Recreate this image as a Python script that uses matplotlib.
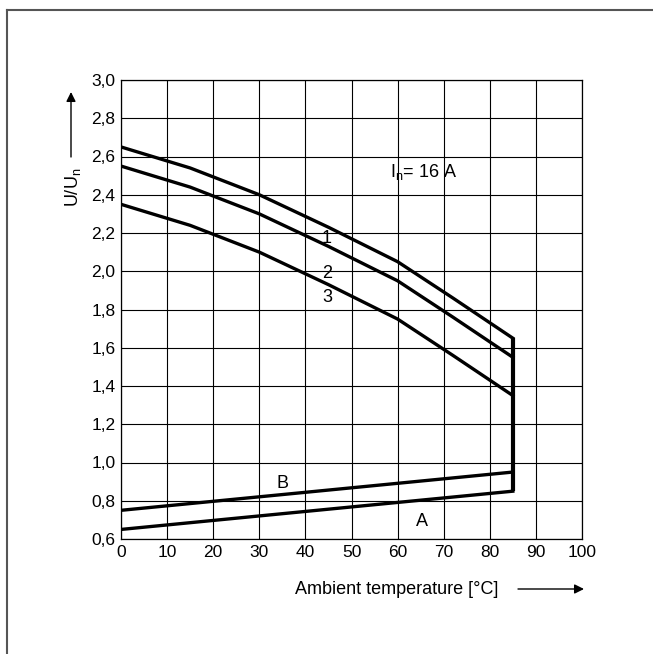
import matplotlib.pyplot as plt
import numpy as np

plt.rcParams['font.family'] = ['Liberation Sans', 'DejaVu Sans']

# curve data
temp = [0, 15, 30, 45, 60, 72, 85]
curve1 = [2.65, 2.54, 2.40, 2.23, 2.05, 1.86, 1.65]
curve2 = [2.55, 2.44, 2.30, 2.13, 1.95, 1.76, 1.55]
curve3 = [2.35, 2.24, 2.10, 1.93, 1.75, 1.56, 1.35]
line_b = [0.75, 0.95]
line_a = [0.65, 0.85]
ab_temp = [0, 85]
vert_temp = [85, 85]
vert_vals = [1.65, 0.85]

x_ticks = list(range(0, 101, 10))
y_ticks = [0.6, 0.8, 1.0, 1.2, 1.4, 1.6, 1.8, 2.0, 2.2, 2.4, 2.6, 2.8, 3.0]
y_tick_labels = [f"{v:.1f}".replace('.', ',') for v in y_ticks]

fig = plt.figure(figsize=(6.53, 6.54), dpi=100)
ax = fig.add_axes([121 / 653, 1 - 539 / 654, 461 / 653, 459 / 654])

# outer frame (only top and left visible in reference)
fig.add_artist(plt.Line2D([7 / 653, 7 / 653], [0, 1 - 10 / 654], color='#555555', lw=1.5,
                          transform=fig.transFigure))
fig.add_artist(plt.Line2D([7 / 653, 1], [1 - 10 / 654, 1 - 10 / 654], color='#555555', lw=1.5,
                          transform=fig.transFigure))

lw = 2.4
ax.plot(temp, curve1, color='black', lw=lw)
ax.plot(temp, curve2, color='black', lw=lw)
ax.plot(temp, curve3, color='black', lw=lw)
ax.plot(ab_temp, line_b, color='black', lw=lw)
ax.plot(ab_temp, line_a, color='black', lw=lw)
ax.plot(vert_temp, vert_vals, color='black', lw=lw + 0.6, solid_capstyle='butt')

ax.set_xlim(0, 100)
ax.set_ylim(0.6, 3.0)
ax.set_xticks(x_ticks)
ax.set_yticks(y_ticks)
ax.set_yticklabels(y_tick_labels)
ax.tick_params(length=0, labelsize=12.5, pad=4)
ax.grid(True, color='black', lw=0.8)
for s in ax.spines.values():
    s.set_linewidth(0.9)

fs = 13
ax.text(44.7, 2.17, '1', fontsize=fs, ha='center', va='center')
ax.text(44.7, 1.99, '2', fontsize=fs, ha='center', va='center')
ax.text(44.7, 1.865, '3', fontsize=fs, ha='center', va='center')
ax.text(35.1, 0.89, 'B', fontsize=fs, ha='center', va='center')
ax.text(65.3, 0.69, 'A', fontsize=fs, ha='center', va='center')
ax.text(58.3, 2.52, r'I$_\mathregular{n}$= 16 A', fontsize=fs, ha='left', va='center')

# axis titles with arrows
fig.text(73 / 653, 1 - 187 / 654, r'U/U$_\mathregular{n}$', rotation=90, fontsize=fs,
         ha='center', va='center')
fig.add_artist(plt.Annotation('', xy=(71 / 653, 1 - 92 / 654), xytext=(71 / 653, 1 - 157 / 654),
                              xycoords='figure fraction',
                              arrowprops=dict(arrowstyle='-|>', color='black', lw=1.0,
                                              mutation_scale=14, shrinkA=0, shrinkB=0)))
fig.text(397 / 653, 1 - 589 / 654, 'Ambient temperature [°C]', fontsize=fs,
         ha='center', va='center')
fig.add_artist(plt.Annotation('', xy=(584 / 653, 1 - 589 / 654), xytext=(518 / 653, 1 - 589 / 654),
                              xycoords='figure fraction',
                              arrowprops=dict(arrowstyle='-|>', color='black', lw=1.0,
                                              mutation_scale=14, shrinkA=0, shrinkB=0)))

fig.savefig('out.png', dpi=100)
